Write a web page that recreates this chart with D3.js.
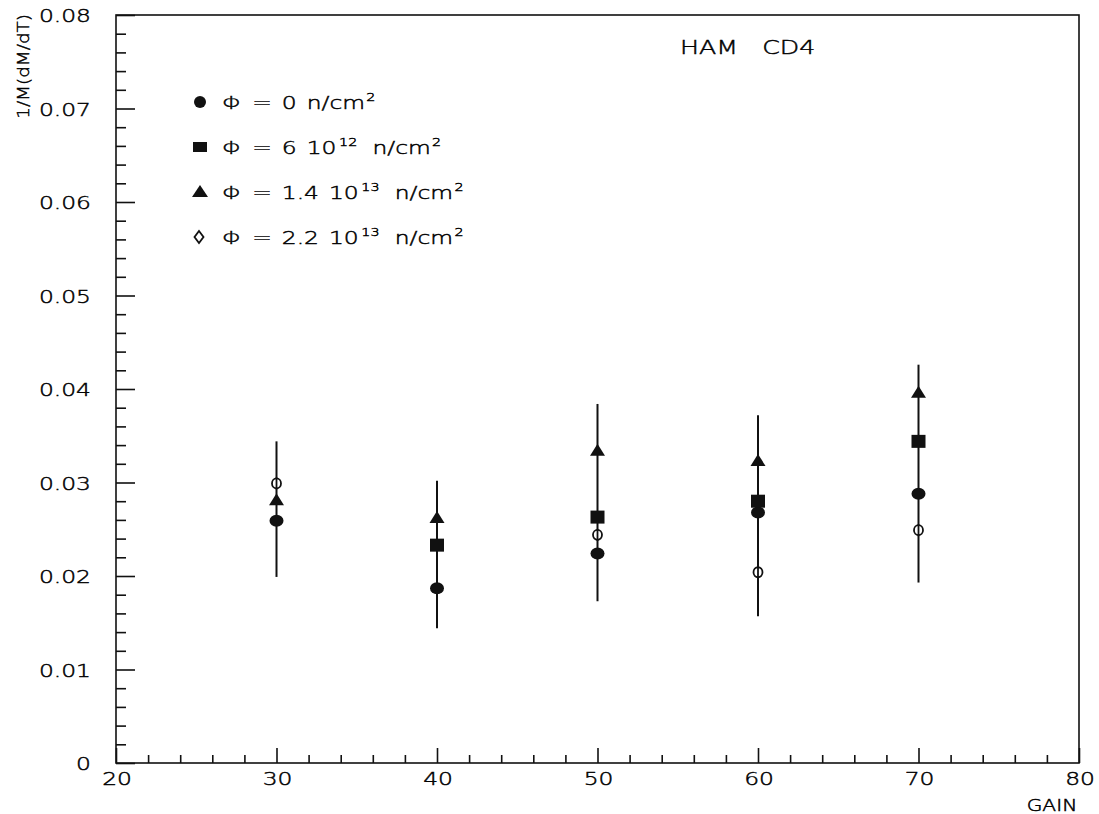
<!DOCTYPE html>
<html>
<head>
<meta charset="utf-8">
<script src="https://cdn.jsdelivr.net/npm/d3@7"></script>
<style>
  body { margin: 0; background: #fff; }
  svg { display: block; }
  text { font-family: "DejaVu Sans", sans-serif; fill: #000; }
</style>
</head>
<body>
<svg id="chart" width="1099" height="814"></svg>
<script>
// ---- data ----
const gains = [30, 40, 50, 60, 70];
const phi0 = [0.0259, 0.0187, 0.0224, 0.0268, 0.0288];        // filled circle
const phi6e12 = [null, 0.0233, 0.0263, 0.0280, 0.0344];       // filled square
const phi14e13 = [0.0281, 0.0262, 0.0334, 0.0323, 0.0396];    // filled triangle
const phi22e13 = [0.0299, null, 0.0244, 0.0204, 0.0249];      // open diamond
const errLow = [0.0199, 0.0144, 0.0173, 0.0157, 0.0193];
const errHigh = [0.0344, 0.0302, 0.0384, 0.0372, 0.0426];
const xTicks = [20, 30, 40, 50, 60, 70, 80];
const yTicks = [0, 0.01, 0.02, 0.03, 0.04, 0.05, 0.06, 0.07, 0.08];
const legendLabels = [
  ["0", null],
  ["6 10", "12"],
  ["1.4 10", "13"],
  ["2.2 10", "13"]
];

// ---- layout ----
const svg = d3.select("#chart");
const L = 116, R = 1079, T = 15, B = 763;
const x = d3.scaleLinear().domain([20, 80]).range([L, R]);
const y = d3.scaleLinear().domain([0, 0.08]).range([B, T]);
const SX = 1.3; // horizontal stretch to mimic the wide plotter font

function wideText(px, py, size, anchor, str, sx) {
  return svg.append("text")
    .attr("transform", `translate(${px},${py}) scale(${sx || SX},1)`)
    .attr("font-size", size).attr("text-anchor", anchor || "start")
    .attr("font-weight", 300).attr("stroke", "#000").attr("stroke-width", 0.45)
    .attr("xml:space", "preserve").text(str);
}

// frame
svg.append("rect").attr("x", L).attr("y", T).attr("width", R - L).attr("height", B - T)
  .attr("fill", "none").attr("stroke", "#111").attr("stroke-width", 1.6);

// y axis ticks (inward, to the right)
const yAxis = d3.axisRight(y).tickValues(yTicks).tickSize(19).tickFormat("");
const yMinor = d3.axisRight(y).tickValues(d3.range(0, 0.0801, 0.002).filter(v => Math.abs(v * 100 - Math.round(v * 100)) > 1e-6)).tickSize(10).tickFormat("");
[yAxis, yMinor].forEach(a => {
  const g = svg.append("g").attr("transform", `translate(${L},0)`).call(a);
  g.select(".domain").remove();
  g.selectAll("line").attr("stroke", "#111").attr("stroke-width", 1.6);
});
yTicks.forEach(d => wideText(91, y(d) + 7, 18, "end", d === 0 ? "0" : d3.format(".2f")(d)));

// x axis ticks (inward, upward)
const xAxis = d3.axisTop(x).tickValues(xTicks).tickSize(15).tickFormat("");
const xMinor = d3.axisTop(x).tickValues(d3.range(22, 80, 2).filter(v => v % 10 !== 0)).tickSize(8).tickFormat("");
[xAxis, xMinor].forEach(a => {
  const g = svg.append("g").attr("transform", `translate(0,${B})`).call(a);
  g.select(".domain").remove();
  g.selectAll("line").attr("stroke", "#111").attr("stroke-width", 1.6);
});
xTicks.forEach(d => wideText(x(d) + 1, 785, 18, "middle", String(d)));

// axis titles
wideText(1052, 811, 15, "middle", "GAIN", 1.35);
svg.append("text").attr("transform", "translate(29,14) rotate(-90) scale(1.15,1)")
  .attr("text-anchor", "end").attr("font-size", 16).attr("font-weight", 300)
  .attr("stroke", "#000").attr("stroke-width", 0.45).text("1/M(dM/dT)");

// title
wideText(680, 54, 19, "start", "HAM   CD4", 1.33);

// error bars
svg.append("g").selectAll("line").data(gains).join("line")
  .attr("x1", d => x(d)).attr("x2", d => x(d))
  .attr("y1", (d, i) => y(errLow[i])).attr("y2", (d, i) => y(errHigh[i]))
  .attr("stroke", "#111").attr("stroke-width", 2);

// marker drawers
function drawCircle(g, cx, cy) {
  g.append("ellipse").attr("cx", cx).attr("cy", cy).attr("rx", 7).attr("ry", 6).attr("fill", "#111");
}
function drawSquare(g, cx, cy) {
  g.append("rect").attr("x", cx - 7).attr("y", cy - 6.5).attr("width", 14).attr("height", 13).attr("fill", "#111");
}
function drawTriangle(g, cx, cy) {
  g.append("path").attr("d", `M${cx},${cy - 7}L${cx + 7.5},${cy + 5}L${cx - 7.5},${cy + 5}Z`).attr("fill", "#111");
}
function drawDiamond(g, cx, cy) {
  g.append("ellipse").attr("cx", cx).attr("cy", cy).attr("rx", 4.5).attr("ry", 5)
    .attr("fill", "#fff").attr("stroke", "#111").attr("stroke-width", 1.8);
  g.append("line").attr("x1", cx).attr("x2", cx).attr("y1", cy - 6).attr("y2", cy + 6)
    .attr("stroke", "#111").attr("stroke-width", 1.8);
}
function drawLegendDiamond(g, cx, cy) {
  g.append("path").attr("d", `M${cx},${cy - 6}L${cx + 4.5},${cy}L${cx},${cy + 6}L${cx - 4.5},${cy}Z`)
    .attr("fill", "none").attr("stroke", "#111").attr("stroke-width", 1.8);
}

const series = [
  { vals: phi22e13, draw: drawDiamond },
  { vals: phi0, draw: drawCircle },
  { vals: phi6e12, draw: drawSquare },
  { vals: phi14e13, draw: drawTriangle }
];
const mk = svg.append("g");
series.forEach(sr => {
  sr.vals.forEach((v, i) => {
    if (v == null) return;
    sr.draw(mk, x(gains[i]), y(v));
  });
});

// legend
const legY = [102, 147, 192, 237];
const leg = svg.append("g");
legendLabels.forEach((lab, i) => {
  const cy = legY[i];
  if (i === 0) { leg.append("circle").attr("cx", 200).attr("cy", cy).attr("r", 6).attr("fill", "#111"); }
  else if (i === 1) { leg.append("rect").attr("x", 193).attr("y", cy - 5).attr("width", 14).attr("height", 10).attr("fill", "#111"); }
  else if (i === 2) { leg.append("path").attr("d", `M200,${cy - 7}L208,${cy + 5}L192,${cy + 5}Z`).attr("fill", "#111"); }
  else { drawLegendDiamond(leg, 199, cy); }
  const t = wideText(222, cy + 7, 18, "start", "", 1.3).attr("word-spacing", 2);
  t.append("tspan").text("\u03A6 = " + lab[0]);
  if (lab[1]) t.append("tspan").attr("dy", -8).attr("font-size", 11).attr("dx", 2).text(lab[1]);
  t.append("tspan").attr("dy", lab[1] ? 8 : 0).attr("dx", lab[1] ? 4 : 0).text(" n/cm");
  t.append("tspan").attr("dy", -8).attr("font-size", 11).attr("dx", 1).text("2");
});
</script>
</body>
</html>
